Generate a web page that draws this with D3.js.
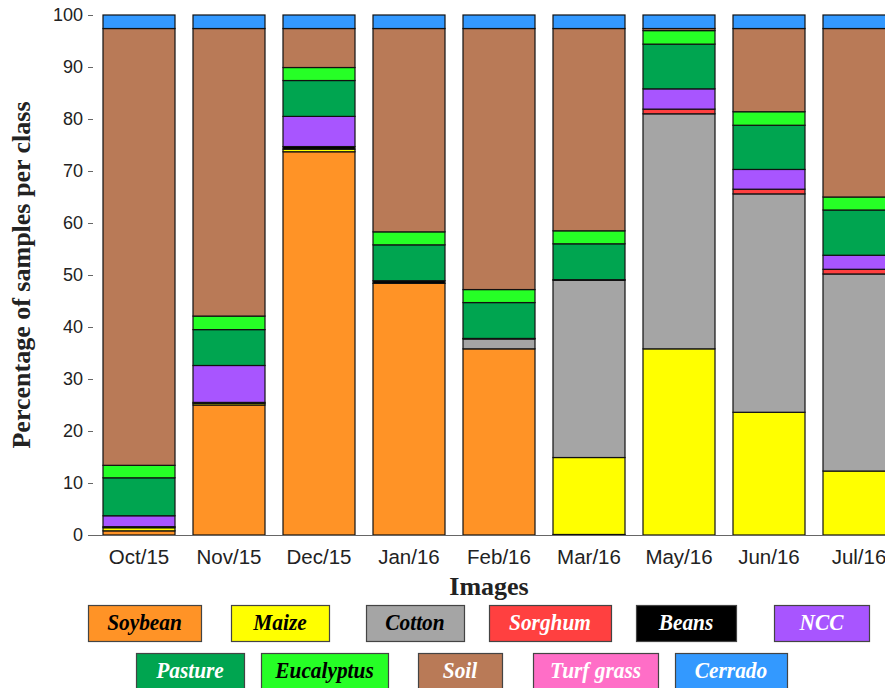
<!DOCTYPE html>
<html><head><meta charset="utf-8">
<script src="https://cdn.jsdelivr.net/npm/d3@7"></script>
<style>body{margin:0;background:#fff}svg{display:block}</style>
</head><body>
<script>
const months = ["Oct/15","Nov/15","Dec/15","Jan/16","Feb/16","Mar/16","May/16","Jun/16","Jul/16"];
const classes = ["Soybean","Maize","Cotton","Sorghum","Beans","NCC","Pasture","Eucalyptus","Soil","Turf grass","Cerrado"];
const soybean   = [0.8, 25.0, 73.7, 48.4, 35.8, 0.1, 0, 0, 0];
const maize     = [0.6, 0.3, 0.5, 0, 0, 14.8, 35.8, 23.6, 12.3];
const cotton    = [0, 0, 0, 0, 1.9, 34.1, 45.2, 42.0, 37.9];
const sorghum   = [0, 0, 0, 0, 0, 0, 0.9, 0.9, 0.9];
const beans     = [0.2, 0.2, 0.5, 0.5, 0.1, 0.1, 0, 0, 0];
const ncc       = [2.1, 7.1, 5.8, 0, 0, 0, 3.9, 3.8, 2.7];
const pasture   = [7.3, 6.9, 6.9, 6.9, 6.9, 6.9, 8.6, 8.5, 8.7];
const eucalyptus= [2.4, 2.6, 2.5, 2.5, 2.5, 2.5, 2.6, 2.6, 2.5];
const soil      = [84.0, 55.3, 7.5, 39.1, 50.2, 38.9, 0.4, 16.0, 32.4];
const turf      = [0, 0, 0, 0, 0, 0, 0, 0, 0];
const cerrado   = [2.6, 2.6, 2.6, 2.6, 2.6, 2.6, 2.6, 2.6, 2.6];
const yTicks = [0,10,20,30,40,50,60,70,80,90,100];

const series = [soybean, maize, cotton, sorghum, beans, ncc, pasture, eucalyptus, soil, turf, cerrado];
const colors = ["#ff9326","#ffff00","#a5a5a5","#ff4040","#000000","#a855ff","#00a550","#26ff26","#b97a57","#ff6ec7","#3399ff"];
const textColors = ["#000","#000","#000","#fff","#fff","#fff","#fff","#000","#fff","#fff","#fff"];
// legend layout (positions only)
const legendRows = [[0,1,2,3,4,5],[6,7,8,9,10]];
const legendX = [[88,231,366,489,636,774],[136,261,418,533,675]];
const legendW = [[113,98,98,122,100,95],[108,127,84,125,112]];
const legendY = [605, 653];
const legendH = 36;

const W = 885, H = 688;
const svg = d3.select("body").append("svg").attr("width", W).attr("height", H);

const x = d3.scaleBand().domain(months).range([94, 904]).paddingInner(0.2).paddingOuter(0.1);
const y = d3.scaleLinear().domain([0,100]).range([535, 15]);

const table = months.map((m,i) => {
  const o = {month:m};
  classes.forEach((c,k) => o[c] = series[k][i]);
  return o;
});
const stacked = d3.stack().keys(classes)(table);

const g = svg.append("g");
stacked.forEach((layer, k) => {
  g.selectAll(null).data(layer.filter(d => d[1]-d[0] > 0)).enter().append("rect")
    .attr("x", d => x(d.data.month))
    .attr("width", x.bandwidth())
    .attr("y", d => y(d[1]))
    .attr("height", d => y(d[0]) - y(d[1]))
    .attr("fill", colors[k])
    .attr("stroke", "#111")
    .attr("stroke-width", 1.2);
});

// bottom axis line
svg.append("line").attr("x1", 88).attr("x2", W).attr("y1", 535.5).attr("y2", 535.5)
  .attr("stroke", "#666").attr("stroke-width", 1.2);

// y axis
const yAxis = d3.axisLeft(y).tickValues(yTicks).tickSize(5).tickPadding(5);
const ya = svg.append("g").attr("transform", "translate(93,0)").call(yAxis);
ya.select(".domain").remove();
ya.selectAll(".tick line").attr("stroke", "#666");
ya.selectAll(".tick text").attr("font-family", "Liberation Sans, Arial, sans-serif")
  .attr("font-size", 18).attr("fill", "#222");

// x axis labels
const xAxis = d3.axisBottom(x).tickSize(0).tickPadding(14);
const xa = svg.append("g").attr("transform", "translate(0,535)").call(xAxis);
xa.select(".domain").remove();
xa.selectAll(".tick text").attr("font-family", "Liberation Sans, Arial, sans-serif")
  .attr("font-size", 20.5).attr("fill", "#222");

// titles
svg.append("text").attr("x", 489).attr("y", 595).attr("text-anchor", "middle")
  .attr("font-family", "Liberation Serif, Times New Roman, serif").attr("font-weight", "bold")
  .attr("font-size", 26).attr("fill", "#222").text("Images");
svg.append("text").attr("transform", "translate(30,275) rotate(-90)").attr("text-anchor", "middle")
  .attr("font-family", "Liberation Serif, Times New Roman, serif").attr("font-weight", "bold")
  .attr("font-size", 26).attr("fill", "#222").text("Percentage of samples per class");

// legend
legendRows.forEach((row, r) => {
  row.forEach((k, j) => {
    const lx = legendX[r][j], lw = legendW[r][j], ly = legendY[r];
    svg.append("rect").attr("x", lx + 0.5).attr("y", ly + 0.5).attr("width", lw).attr("height", legendH)
      .attr("fill", colors[k]).attr("stroke", "#444").attr("stroke-width", 1.2);
    svg.append("text")
      .attr("transform", `translate(${lx + lw/2},${ly + 25}) scale(0.89,1)`)
      .attr("text-anchor", "middle")
      .attr("font-family", "Liberation Serif, Times New Roman, serif").attr("font-weight", "bold")
      .attr("font-style", "italic").attr("font-size", 24).attr("fill", textColors[k]).text(classes[k]);
  });
});
</script>
</body></html>
